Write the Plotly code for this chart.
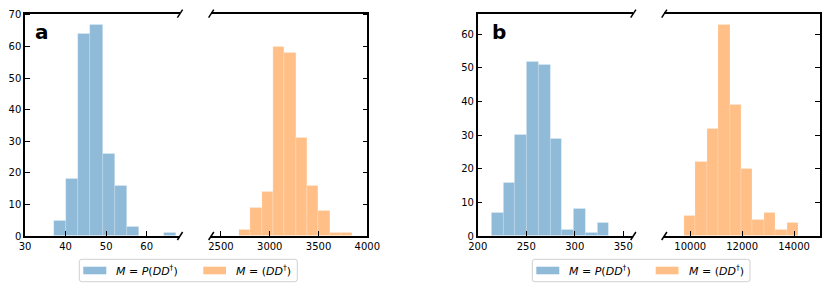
import plotly.graph_objects as go

# ---------------- data ----------------
# panel a
a_p_start, a_p_width = 37.1, 3.01
a_p_counts = [5, 18, 64, 67, 26, 16, 3, 0, 0, 1]
a_d_start, a_d_width = 2685, 116.3
a_d_counts = [2, 9, 14, 60, 58, 31, 16, 8, 1, 1]
# panel b
b_p_start, b_p_width = 214.4, 12.09
b_p_counts = [7, 16, 30, 52, 51, 29, 2, 8, 1, 4]
b_d_start, b_d_width = 9759, 441.7
b_d_counts = [6, 22, 32, 63, 39, 20, 5, 7, 2, 4]

a_left_ticks = [30, 40, 50, 60]
a_right_ticks = [2500, 3000, 3500, 4000]
b_left_ticks = [200, 250, 300, 350]
b_right_ticks = [10000, 12000, 14000]

label_p = "<i>M</i> = <i>P</i>(<i>DD</i><sup>†</sup>)"
label_d = "<i>M</i> = (<i>DD</i><sup>†</sup>)"

BLUE = "rgba(31,119,180,0.5)"
ORANGE = "rgba(255,127,14,0.5)"

W, H = 830, 288
FONT = "DejaVu Sans"

def centers(start, width, n):
    return [start + width * (i + 0.5) for i in range(n)]

fig = go.Figure()

def add_hist(start, width, counts, color, name, xa, ya):
    fig.add_trace(go.Bar(
        x=centers(start, width, len(counts)), y=counts, width=width,
        marker=dict(color=color, line=dict(color="rgba(255,255,255,0.35)", width=0.6)),
        name=name, xaxis=xa, yaxis=ya, showlegend=False,
    ))

add_hist(a_p_start, a_p_width, a_p_counts, BLUE, label_p, "x", "y")
add_hist(a_d_start, a_d_width, a_d_counts, ORANGE, label_d, "x2", "y2")
add_hist(b_p_start, b_p_width, b_p_counts, BLUE, label_p, "x3", "y3")
add_hist(b_d_start, b_d_width, b_d_counts, ORANGE, label_d, "x4", "y4")

def xd(p0, p1):
    return [p0 / W, p1 / W]

def yd(top, bottom):
    return [1 - bottom / H, 1 - top / H]

tickfont = dict(family=FONT, size=10, color="black")
common_x = dict(showgrid=False, zeroline=False, showline=True, linecolor="black", linewidth=1.5,
                mirror=True, ticks="inside", ticklen=5, tickwidth=1, tickcolor="black",
                tickfont=tickfont, fixedrange=True, automargin=False)
common_y = dict(showgrid=False, zeroline=False, showline=True, linecolor="black", linewidth=1.5,
                mirror=False, ticks="inside", ticklen=5, tickwidth=1, tickcolor="black",
                tickfont=tickfont, dtick=10, fixedrange=True, automargin=False)

top, bot = 13.7, 236

def tk(vals):
    return dict(tickvals=vals, ticktext=[str(v) for v in vals])

fig.update_layout(
    xaxis=dict(common_x, domain=xd(25, 180), range=[30, 68.2], anchor="y", **tk(a_left_ticks)),
    yaxis=dict(common_y, domain=yd(top, bot), range=[0, 70.35], anchor="x"),
    xaxis2=dict(common_x, domain=xd(211.2, 367.3), range=[2400, 4000], anchor="y2", **tk(a_right_ticks)),
    yaxis2=dict(common_y, domain=yd(top, bot), range=[0, 70.35], anchor="x2", side="right", showticklabels=False),
    xaxis3=dict(common_x, domain=xd(477.7, 633.3), range=[200, 360.3], anchor="y3", **tk(b_left_ticks)),
    yaxis3=dict(common_y, domain=yd(top, bot), range=[0, 66.15], anchor="x3"),
    xaxis4=dict(common_x, domain=xd(664.3, 820), range=[9000, 15000], anchor="y4", **tk(b_right_ticks)),
    yaxis4=dict(common_y, domain=yd(top, bot), range=[0, 66.15], anchor="x4", side="right", showticklabels=False),
    width=W, height=H,
    margin=dict(l=0, r=0, t=0, b=0, autoexpand=False),
    paper_bgcolor="white", plot_bgcolor="rgba(0,0,0,0)",
    bargap=0,
    showlegend=False,
    font=dict(family=FONT, color="black"),
)

# panel letters
for txt, xp in (("a", 34), ("b", 490.5)):
    fig.add_annotation(text="<b>%s</b>" % txt, x=xp / W, y=1 - 32 / H, xref="paper", yref="paper",
                       xanchor="left", yanchor="middle", showarrow=False, borderpad=0,
                       font=dict(family=FONT, size=20, color="black"))

# break marks (in axes-domain coordinates)
def slash(xref, yref, xc, yc, width_px, height_px):
    dx = 2.6 / width_px
    dy = 4.0 / height_px
    fig.add_shape(type="line", xref=xref, yref=yref, x0=xc - dx, y0=yc - dy, x1=xc + dx, y1=yc + dy,
                  line=dict(color="black", width=1.5))

hp = bot - top
slash("x domain", "y domain", 1, 1, 155, hp)
slash("x domain", "y domain", 1, 0, 155, hp)
slash("x2 domain", "y2 domain", 0, 1, 156, hp)
slash("x2 domain", "y2 domain", 0, 0, 156, hp)
slash("x3 domain", "y3 domain", 1, 1, 155.6, hp)
slash("x3 domain", "y3 domain", 1, 0, 155.6, hp)
slash("x4 domain", "y4 domain", 0, 1, 155.7, hp)
slash("x4 domain", "y4 domain", 0, 0, 155.7, hp)

# legends (drawn as boxes + patches + texts in paper pixels)
def px(x):
    return x / W

def py(y):
    return 1 - y / H

def rounded_box(x0, y0, x1, y1, r=2.5):
    def P(x, y):
        return "%f,%f" % (px(x), py(y))
    return ("M " + P(x0 + r, y0) + " L " + P(x1 - r, y0) + " Q " + P(x1, y0) + " " + P(x1, y0 + r) +
            " L " + P(x1, y1 - r) + " Q " + P(x1, y1) + " " + P(x1 - r, y1) +
            " L " + P(x0 + r, y1) + " Q " + P(x0, y1) + " " + P(x0, y1 - r) +
            " L " + P(x0, y0 + r) + " Q " + P(x0, y0) + " " + P(x0 + r, y0) + " Z")

legend_specs = [
    (79.3, 297.3, [(83.3, 106.3, 115, BLUE, label_p), (203.3, 226, 235, ORANGE, label_d)]),
    (532.3, 750, [(536.3, 559.3, 568.3, BLUE, label_p), (655.7, 678.5, 687.7, ORANGE, label_d)]),
]
for bx0, bx1, items in legend_specs:
    fig.add_shape(type="path", xref="paper", yref="paper", path=rounded_box(bx0, 259.3, bx1, 281.7),
                  line=dict(color="#d0d0d0", width=1), fillcolor="rgba(255,255,255,0.8)", layer="above")
    for p0, p1, tx, col, lab in items:
        fig.add_shape(type="rect", xref="paper", yref="paper", x0=px(p0), x1=px(p1),
                      y0=py(274.3), y1=py(266.7), line=dict(width=0), fillcolor=col, layer="above")
        fig.add_annotation(text=lab, x=px(tx), y=py(270.5), xref="paper", yref="paper",
                           xanchor="left", yanchor="middle", showarrow=False, borderpad=0,
                           font=dict(family=FONT, size=11, color="black"))

fig.write_html("out.html", config={"displayModeBar": False},
               post_script="document.body.style.margin='0';document.body.style.overflow='hidden';")
